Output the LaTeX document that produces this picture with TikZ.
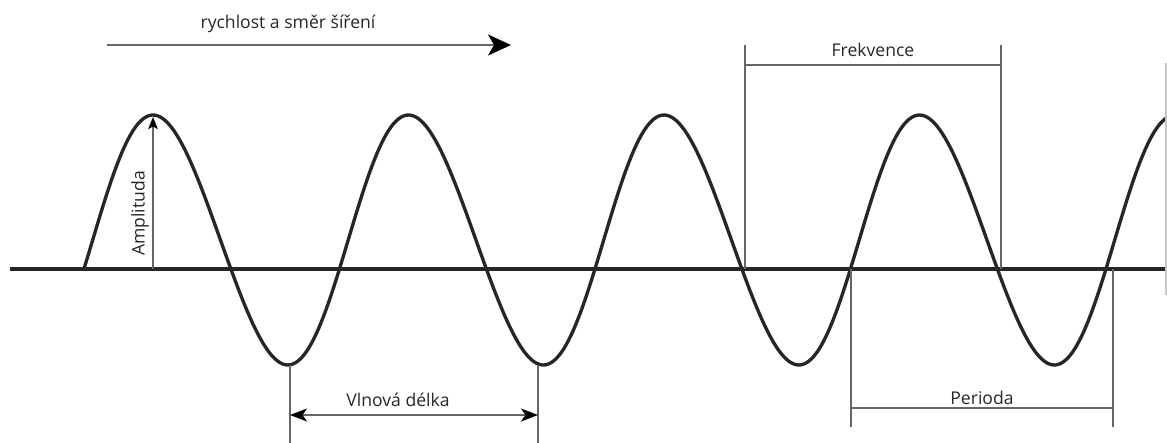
\documentclass[tikz,border=0pt]{standalone}
\usepackage{fontspec}
\setmainfont{Open Sans}
\usetikzlibrary{arrows.meta}
\tikzset{
  wave/.style={line width=1.9pt, black!85, line join=round},
  dim/.style={line width=0.8pt, black!60},
  lbl/.style={font=\fontsize{10}{12}\selectfont, text=black!85}
}
\begin{document}
\begin{tikzpicture}
\useasboundingbox (0,-3.48) rectangle (23.34,5.38);
\coordinate (axL) at (0.2,0);
\coordinate (axR) at (23.34,0);
\draw[wave] (axL) -- (axR);
\draw[wave] plot[domain=1.68:23.34, samples=400, smooth] (\x, {0.58+2.5*sin(360*(\x-1.854)/5.11+5.04*sin(360*(\x-1.854)/5.11))});
\coordinate (dirL) at (2.14,4.48);
\coordinate (dirR) at (10.22,4.48);
\draw[dim, line width=1pt, -{Stealth[length=4.6mm, width=4.2mm, inset=1.2mm, black]}] (dirL) -- node[lbl, above=3pt, xshift=-0.42cm] (dirlbl) {rychlost a směr šíření} (dirR);
\coordinate (ampB) at (3.06,0);
\coordinate (ampT) at (3.06,3.04);
\draw[dim, -{Stealth[length=2.4mm, width=1.9mm, inset=0.5mm, black]}] (ampB) -- node[lbl, pos=0.365, above, sloped, inner sep=2pt] (amplbl) {Amplituda} (ampT);
\coordinate (frekLB) at (14.9,0);
\coordinate (frekLT) at (14.9,4.48);
\coordinate (frekRB) at (20.02,0);
\coordinate (frekRT) at (20.02,4.48);
\coordinate (frekL) at (14.9,4.08);
\coordinate (frekR) at (20.02,4.08);
\draw[dim] (frekLB) -- (frekLT);
\draw[dim] (frekRB) -- (frekRT);
\draw[dim] (frekL) -- node[lbl, above=1pt] (freklbl) {Frekvence} (frekR);
\coordinate (perLT) at (17.02,0);
\coordinate (perLB) at (17.02,-3.16);
\coordinate (perRT) at (22.26,0);
\coordinate (perRB) at (22.26,-3.16);
\coordinate (perL) at (17.02,-2.78);
\coordinate (perR) at (22.26,-2.78);
\draw[dim] (perLT) -- (perLB);
\draw[dim] (perRT) -- (perRB);
\draw[dim] (perL) -- node[lbl, above, inner sep=1.5pt] (perlbl) {Perioda} (perR);
\coordinate (vlnLT) at (5.80,-1.92);
\coordinate (vlnLB) at (5.80,-3.48);
\coordinate (vlnRT) at (10.76,-1.92);
\coordinate (vlnRB) at (10.76,-3.48);
\coordinate (vlnL) at (5.80,-2.92);
\coordinate (vlnR) at (10.76,-2.92);
\draw[dim] (vlnLT) -- (vlnLB);
\draw[dim] (vlnRT) -- (vlnRB);
\draw[dim, {Stealth[length=3.4mm, width=2.6mm, inset=0.9mm, black]}-{Stealth[length=3.4mm, width=2.6mm, inset=0.9mm, black]}] (vlnL) -- node[lbl, above=1pt, xshift=-0.32cm] (vlnlbl) {Vlnová délka} (vlnR);
\coordinate (edgeT) at (23.32,4.12);
\coordinate (edgeB) at (23.32,-0.52);
\draw[gray!45, line width=0.6pt] (edgeT) -- (edgeB);
\end{tikzpicture}
\end{document}
